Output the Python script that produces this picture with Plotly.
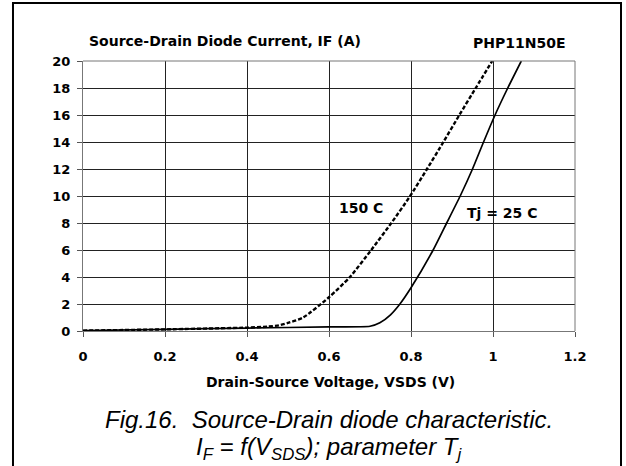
import plotly.graph_objects as go

# Tj = 25 C (solid)
v_25 = [0, 0.2, 0.4, 0.6, 0.7, 0.724, 0.75, 0.773, 0.8, 0.854, 0.887, 0.92, 0.95, 0.977, 1.005, 1.036, 1.069]
i_25 = [0.03, 0.12, 0.22, 0.3, 0.35, 0.61, 1.2, 2.0, 3.2, 6.0, 8.0, 10.0, 12.0, 14.0, 16.0, 18.0, 20.0]

# Tj = 150 C (dashed)
v_150 = [0, 0.2, 0.4, 0.45, 0.478, 0.5, 0.537, 0.6, 0.651, 0.703, 0.752, 0.798, 0.839, 0.879, 0.918, 0.958, 0.998]
i_150 = [0.03, 0.12, 0.25, 0.32, 0.42, 0.6, 1.0, 2.5, 4.0, 6.0, 8.0, 10.0, 12.0, 14.0, 16.0, 18.0, 20.0]

x_ticks = [0, 0.2, 0.4, 0.6, 0.8, 1.0, 1.2]
x_tick_labels = ["0", "0.2", "0.4", "0.6", "0.8", "1", "1.2"]
y_ticks = [0, 2, 4, 6, 8, 10, 12, 14, 16, 18, 20]

BOLD = "DejaVu Sans, Liberation Sans, Arial, sans-serif"
ITAL = "Liberation Sans, Arial, sans-serif"

fig = go.Figure()
fig.add_trace(go.Scatter(x=v_150, y=i_150, mode="lines",
                         line=dict(color="black", width=2.4, dash="4px,2px",
                                   shape="spline", smoothing=0.6),
                         showlegend=False))
fig.add_trace(go.Scatter(x=v_25, y=i_25, mode="lines",
                         line=dict(color="black", width=1.7, shape="spline", smoothing=0.5),
                         showlegend=False))

axis_common = dict(showgrid=True, gridcolor="#222222", gridwidth=1,
                   showline=True, linecolor="#777777", linewidth=1,
                   ticks="outside", ticklen=5, tickcolor="#555555",
                   tickfont=dict(family=BOLD, size=13, color="black", weight="bold"),
                   zeroline=False, fixedrange=True)

fig.update_xaxes(range=[0, 1.2], tickvals=x_ticks, ticktext=x_tick_labels,
                 ticklabelstandoff=8, **axis_common)
fig.update_yaxes(range=[0, 20], tickvals=y_ticks, ticklabelstandoff=4, **axis_common)

annotations = [
    dict(text="<b>Source-Drain Diode Current, IF (A)</b>", xref="paper", yref="paper",
         x=0.008, y=1.074, xanchor="left", yanchor="middle", showarrow=False,
         font=dict(family=BOLD, size=14, color="black")),
    dict(text="<b>PHP11N50E</b>", xref="paper", yref="paper",
         x=0.983, y=1.066, xanchor="right", yanchor="middle", showarrow=False,
         font=dict(family=BOLD, size=14, color="black")),
    dict(text="<b>Drain-Source Voltage, VSDS (V)</b>", xref="paper", yref="paper",
         x=0.504, y=-0.189, xanchor="center", yanchor="middle", showarrow=False,
         font=dict(family=BOLD, size=14, color="black")),
    dict(text="<b>150 C</b>", x=0.677, y=9.1, xanchor="center", yanchor="middle",
         showarrow=False, font=dict(family=BOLD, size=14, color="black")),
    dict(text="<b>Tj = 25 C</b>", x=1.022, y=8.76, xanchor="center", yanchor="middle",
         showarrow=False, font=dict(family=BOLD, size=14, color="black")),
    dict(text="<i>Fig.16.  Source-Drain diode characteristic.</i>", xref="paper", yref="paper",
         x=0.5, y=-(419 - 331) / 270, xanchor="center", yanchor="middle", showarrow=False,
         font=dict(family=ITAL, size=24, color="black")),
    dict(text="<i>I<sub>F</sub> = f(V<sub>SDS</sub>); parameter T<sub>j</sub></i>", xref="paper", yref="paper",
         x=0.5, y=-(448 - 331) / 270, xanchor="center", yanchor="middle", showarrow=False,
         font=dict(family=ITAL, size=24, color="black")),
]

shapes = [
    dict(type="rect", xref="paper", yref="paper", x0=-0.1423, x1=1.0935, y0=-0.7, y1=1.2148,
         line=dict(color="black", width=2), fillcolor="rgba(0,0,0,0)", layer="above"),
    dict(type="line", xref="paper", yref="paper", x0=1, x1=1, y0=0, y1=1,
         line=dict(color="#777777", width=1)),
    dict(type="line", xref="paper", yref="paper", x0=0, x1=1, y0=1, y1=1,
         line=dict(color="#777777", width=1)),
]

fig.update_layout(width=626, height=466,
                  margin=dict(l=83, r=51, t=61, b=135),
                  paper_bgcolor="white", plot_bgcolor="white",
                  annotations=annotations, shapes=shapes,
                  font=dict(family=ITAL, color="black"))

fig.write_html("out.html", config={"displayModeBar": False},
               post_script="document.body.style.margin='0px';document.body.style.overflow='hidden';")
